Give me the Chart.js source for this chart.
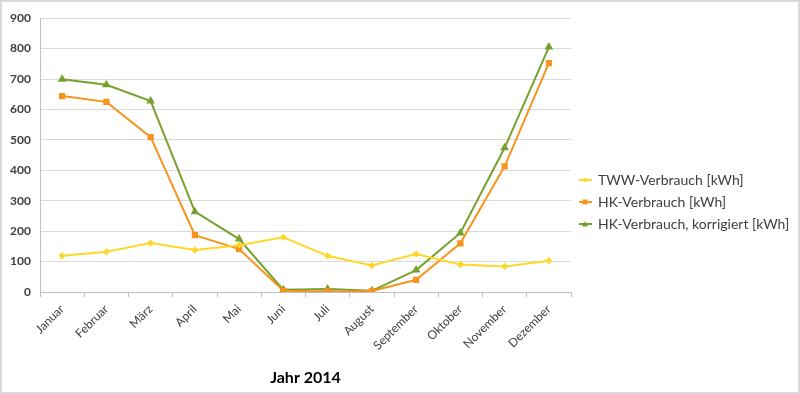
<!DOCTYPE html>
<html>
<head>
<meta charset="utf-8">
<script src="https://cdn.jsdelivr.net/npm/chart.js@4.4.1/dist/chart.umd.min.js"></script>
<style>
  html, body { margin: 0; padding: 0; background: #fff; }
  #wrap { position: relative; width: 796px; height: 390px; border: 2px solid #d9d9d9; }
</style>
</head>
<body>
<div id="wrap"><canvas id="myChart" width="796" height="390"></canvas></div>
<script>
'use strict'

// data
const months = ['Januar', 'Februar', 'März', 'April', 'Mai', 'Juni', 'Juli', 'August', 'September', 'Oktober', 'November', 'Dezember'];
const twwVerbrauch = [119, 132, 161, 138, 154, 180, 119, 87, 125, 90, 84, 103];
const hkVerbrauch = [644, 625, 509, 187, 141, 4, 2, 3, 40, 160, 413, 752];
const hkKorrigiert = [699, 681, 628, 264, 174, 7, 10, 4, 72, 194, 474, 805];
const yTicks = [0, 100, 200, 300, 400, 500, 600, 700, 800, 900];

const fontFamily = "Lato, 'Open Sans', sans-serif";

// little legend symbol: short line with marker in the middle
function legendIcon(color, marker) {
  const c = document.createElement('canvas');
  c.width = 13;
  c.height = 8;
  const ctx = c.getContext('2d');
  ctx.strokeStyle = color;
  ctx.fillStyle = color;
  ctx.lineWidth = 2;
  ctx.beginPath();
  ctx.moveTo(0, 4);
  ctx.lineTo(13, 4);
  ctx.stroke();
  ctx.beginPath();
  if (marker === 'rect') {
    ctx.rect(4, 1.5, 5, 5);
  } else if (marker === 'triangle') {
    ctx.moveTo(6.5, 1);
    ctx.lineTo(9.5, 6.5);
    ctx.lineTo(3.5, 6.5);
    ctx.closePath();
  } else {
    ctx.arc(6.5, 4, 2, 0, Math.PI * 2);
  }
  ctx.fill();
  return c;
}

const yellow = '#ffd728';
const orange = '#f7941d';
const green = '#77a02c';

const data = {
  labels: months,
  datasets: [{
    label: 'TWW-Verbrauch [kWh]',
    data: twwVerbrauch,
    borderColor: yellow,
    backgroundColor: yellow,
    borderWidth: 2,
    pointStyle: 'rectRot',
    pointRadius: 2.2,
    icon: legendIcon(yellow, 'dot')
  },
  {
    label: 'HK-Verbrauch [kWh]',
    data: hkVerbrauch,
    borderColor: orange,
    backgroundColor: orange,
    borderWidth: 2,
    pointStyle: 'rect',
    pointRadius: 3,
    icon: legendIcon(orange, 'rect')
  },
  {
    label: 'HK-Verbrauch, korrigiert [kWh]',
    data: hkKorrigiert,
    borderColor: green,
    backgroundColor: green,
    borderWidth: 2,
    pointStyle: 'triangle',
    pointRadius: 3,
    icon: legendIcon(green, 'triangle')
  }]
};

// keep the legend column a fixed width so the plot area matches
const legendWidth = {
  id: 'legendWidth',
  afterInit: function(chart) {
    const lg = chart.legend;
    const origFit = lg.fit;
    lg.fit = function() {
      origFit.call(this);
      this.width = 227;
    };
  }
};

const config = {
  type: 'line',
  data: data,
  plugins: [legendWidth],
  options: {
    responsive: false,
    animation: false,
    layout: {
      padding: { left: 0, top: 10, right: 0, bottom: 0 }
    },
    plugins: {
      tooltip: { enabled: false },
      legend: {
        position: 'right',
        labels: {
          usePointStyle: true,
          boxWidth: 12,
          pointStyleWidth: 12,
          color: '#404040',
          font: { family: fontFamily, size: 14 },
          padding: 8,
          generateLabels: function(chart) {
            return chart.data.datasets.map(function(ds, i) {
              return {
                text: ds.label,
                fillStyle: ds.borderColor,
                strokeStyle: ds.borderColor,
                pointStyle: ds.icon,
                datasetIndex: i,
                fontColor: '#404040'
              };
            });
          }
        }
      }
    },
    scales: {
      x: {
        offset: true,
        afterFit: function(axis) {
          axis.height = 100;
        },
        grid: {
          offset: true,
          drawOnChartArea: false,
          color: '#bfbfbf',
          tickLength: 5
        },
        border: { color: '#bfbfbf' },
        ticks: {
          color: '#404040',
          font: { family: fontFamily, size: 12 },
          maxRotation: 45,
          minRotation: 45,
          padding: 5
        },
        title: {
          display: true,
          text: 'Jahr 2014',
          color: '#000',
          font: { family: fontFamily, size: 16, weight: 'bold' },
          padding: { top: 4, bottom: 5 }
        }
      },
      y: {
        min: 0,
        max: 900,
        afterBuildTicks: function(axis) {
          axis.ticks = yTicks.map(function(v) { return { value: v }; });
        },
        afterFit: function(axis) {
          axis.width = 38;
        },
        grid: {
          color: '#d9d9d9',
          drawTicks: false
        },
        border: { color: '#bfbfbf' },
        ticks: {
          color: '#404040',
          font: { family: fontFamily, size: 12, weight: 'bold' },
          padding: 9
        }
      }
    }
  }
};

let canvasChart = document.getElementById('myChart');
const myChart = new Chart(canvasChart, config);
</script>
</body>
</html>
